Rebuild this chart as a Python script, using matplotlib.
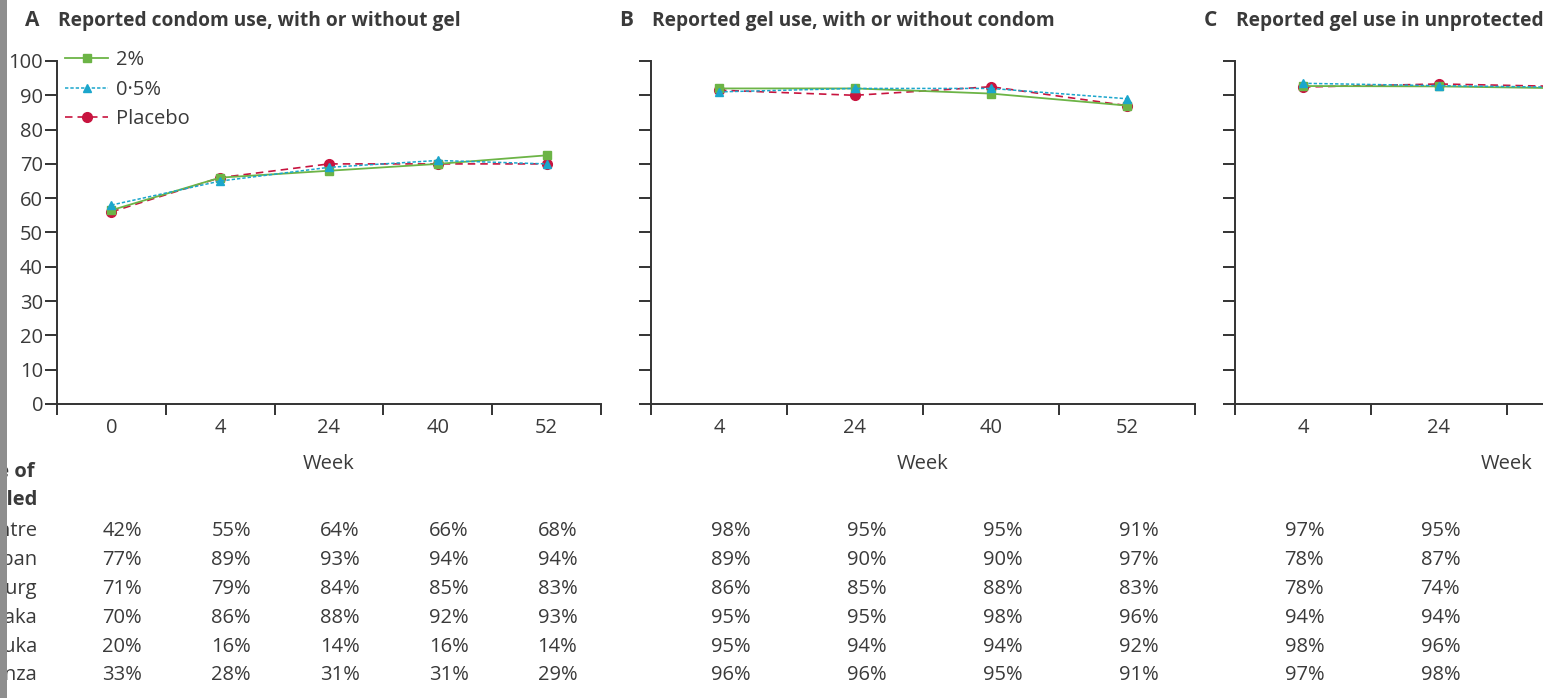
import matplotlib
matplotlib.use("Agg")
import matplotlib.pyplot as plt
import matplotlib.transforms as mtransforms
from matplotlib.patches import Rectangle
import numpy as np

plt.rcParams['font.family'] = ['Open Sans', 'DejaVu Sans']

# ---- data ----
weeks_a = ["0", "4", "24", "40", "52"]
weeks_bc = ["4", "24", "40", "52"]

# panel A: reported condom use, with or without gel (%)
a_2pct = [56.5, 66, 68, 70, 72.5]
a_05pct = [58, 65, 69, 71, 70]
a_placebo = [56, 66, 70, 70, 70]

# panel B: reported gel use, with or without condom (%)
b_2pct = [92, 92, 90.5, 87]
b_05pct = [91, 92, 92, 89]
b_placebo = [91.5, 90, 92.5, 87]

# panel C: reported gel use in unprotected sex acts (%), weeks 4-40 visible
c_2pct = [92.7, 92.6, 92]
c_05pct = [93.5, 92.8, 92.3]
c_placebo = [92.4, 93.3, 92.5]

sites = ["Africa Centre", "Durban", "Johannesburg", "Masaka", "Mazabuka", "Mwanza"]
table_a = [[42, 55, 64, 66, 68],
           [77, 89, 93, 94, 94],
           [71, 79, 84, 85, 83],
           [70, 86, 88, 92, 93],
           [20, 16, 14, 16, 14],
           [33, 28, 31, 31, 29]]
table_b = [[98, 95, 95, 91],
           [89, 90, 90, 97],
           [86, 85, 88, 83],
           [95, 95, 98, 96],
           [95, 94, 94, 92],
           [96, 96, 95, 91]]
table_c = [[97, 95],
           [78, 87],
           [78, 74],
           [94, 94],
           [98, 96],
           [97, 98]]

titles = [("A", "Reported condom use, with or without gel"),
          ("B", "Reported gel use, with or without condom"),
          ("C", "Reported gel use in unprotected sex acts")]

# ---- styling ----
W, H = 1543, 698
TXT = '#3a3a3a'
GREEN = '#6cb446'
BLUE = '#1ba6cc'
RED = '#c8143f'
FS = 14.5


def fx(x):
    return x / W


def fy(y):
    return 1 - y / H


fig = plt.figure(figsize=(W / 100, H / 100), dpi=100)

ax_top, ax_bot = 61, 404
ax_w = 544
lefts = [57, 651, 1235]
axes = []
for l in lefts:
    ax = fig.add_axes([fx(l), fy(ax_bot), fx(ax_w), (ax_bot - ax_top) / H])
    axes.append(ax)

series = [
    (weeks_a, a_2pct, a_05pct, a_placebo, table_a, 0.1),
    (weeks_bc, b_2pct, b_05pct, b_placebo, table_b, 0.09),
    (weeks_bc, c_2pct, c_05pct, c_placebo, table_c, 0.01),
]

row_base = [536 + 28.9 * i for i in range(len(sites))]

for k, (ax, (wk, s2, s05, spl, tab, off)) in enumerate(zip(axes, series)):
    n = len(wk)
    ax.plot(range(len(s2)), s2, color=GREEN, lw=1.3, ls='-', marker='s', ms=5.5,
            label='2%', zorder=3)
    ax.plot(range(len(s05)), s05, color=BLUE, lw=1.1, ls=(0, (2.2, 1.3)), marker='^',
            ms=6, label='0\u00b75%', zorder=4)
    ax.plot(range(len(spl)), spl, color=RED, lw=1.2, ls=(0, (4.5, 3)), marker='o',
            ms=7, label='Placebo', zorder=2)

    ax.set_xlim(-0.5, n - 0.5)
    ax.set_ylim(0, 100)
    for s in ['top', 'right']:
        ax.spines[s].set_visible(False)
    for s in ['left', 'bottom']:
        ax.spines[s].set_linewidth(1.4)
        ax.spines[s].set_color('#333333')

    ax.set_xticks(np.arange(-0.5, n, 1.0))
    ax.set_xticklabels([])
    ax.set_xticks(np.arange(n), minor=True)
    ax.set_xticklabels(wk, minor=True)
    ax.tick_params(axis='x', which='major', direction='out', length=8, width=1.4,
                   color='#333333')
    ax.tick_params(axis='x', which='minor', length=0, pad=10, labelsize=FS,
                   labelcolor=TXT)
    ax.set_yticks(np.arange(0, 101, 10))
    ax.tick_params(axis='y', direction='out', length=9, width=1.4, color='#333333',
                   pad=1, labelsize=FS, labelcolor=TXT)
    if k > 0:
        ax.set_yticklabels([])

    # panel title
    letter, title = titles[k]
    fig.text(fx(lefts[k] - 18), fy(26), letter, ha='right', va='baseline',
             fontsize=15, fontweight='bold', color=TXT)
    fig.text(fx(lefts[k] + 1), fy(26), title, ha='left', va='baseline',
             fontsize=13.8, fontweight='bold', color=TXT)

    # x label
    fig.text(fx(lefts[k] + ax_w / 2), fy(469), "Week", ha='center', va='baseline',
             fontsize=FS, color=TXT)

    # table below the axis
    trans = mtransforms.blended_transform_factory(ax.transData, fig.transFigure)
    for r, row in enumerate(tab):
        for c, v in enumerate(row):
            t = ax.text(c + off, fy(row_base[r]), f"{v}%", transform=trans,
                        ha='center', va='baseline', fontsize=FS, color=TXT)
            t.set_clip_on(False)

leg = axes[0].legend(loc='upper left', bbox_to_anchor=(0.0147, 1.031), frameon=False,
                     fontsize=FS, handlelength=2.15, handletextpad=0.4,
                     labelspacing=0.47, borderpad=0, borderaxespad=0, numpoints=1)
for t in leg.get_texts():
    t.set_color(TXT)

# row labels (left side, partly cropped by figure edge)
fig.text(fx(35), fy(477), "Percentage of", ha='right', va='baseline', fontsize=FS,
         fontweight='bold', color=TXT)
fig.text(fx(37), fy(505), "visits sampled", ha='right', va='baseline', fontsize=FS,
         fontweight='bold', color=TXT)
for r, s in enumerate(sites):
    fig.text(fx(37), fy(row_base[r]), s, ha='right', va='baseline', fontsize=FS,
             color=TXT)

# grey strip along the left edge
fig.add_artist(Rectangle((0, 0), fx(7), 1, transform=fig.transFigure,
                         facecolor='#8e8e8e', edgecolor='none', zorder=20))

fig.savefig("out.png", dpi=100)
